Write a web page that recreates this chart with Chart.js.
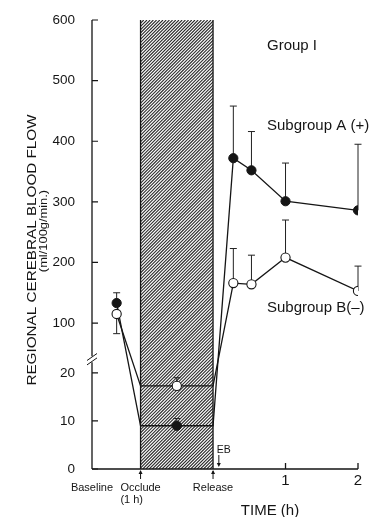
<!DOCTYPE html>
<html>
<head>
<meta charset="utf-8">
<script src="https://cdn.jsdelivr.net/npm/chart.js@4.4.1/dist/chart.umd.min.js"></script>
<style>
  html, body { margin: 0; padding: 0; background: #fff; }
  #wrap { width: 371px; height: 517px; }
</style>
</head>
<body>
<div id="wrap"><canvas id="flowChart"></canvas></div>
<script>
/* ----------- Data ----------- */
// time in hours, occlusion runs from -1 to 0 (release)
const times = [-1.33, -1, -0.5, 0, 0.28, 0.53, 1, 2];
const flowA = [133, 9, 9, 9, 372, 352, 301, 286];        // Subgroup A (+), filled
const errA  = [150, null, 10.5, null, 458, 416, 364, 395];
const flowB = [115, 17.3, 17.3, 17.3, 166, 164, 208, 153]; // Subgroup B(-), open
const errB  = [83, null, 19, null, 223, 212, 270, 194];

const yTicks = [0, 10, 20, 100, 200, 300, 400, 500, 600];
const xTickValues = [-1.67, -1, 0, 1, 2];
const xTickLabels = [['Baseline'], ['Occlude', '(1 h)'], ['Release'], ['1'], ['2']];

const OCCLUDE = -1, RELEASE = 0, EB_TIME = 0.08;
const BREAK_VALUE = 42;
const FONT = "'Liberation Sans', Arial, sans-serif";
const INK = '#151515';

/* ----------- Broken y scale: 0-20 below, 100-600 above ----------- */
const LOW_TOP = 20, LOW_FRAC = 0.214;
const HIGH_BOTTOM = 100, HIGH_FRAC = 0.325;

class BrokenScale extends Chart.LinearScale {
    getPixelForValue(value){
        let dec;
        if(value <= LOW_TOP) dec = value / LOW_TOP * LOW_FRAC;
        else if(value >= HIGH_BOTTOM) dec = HIGH_FRAC + (value - HIGH_BOTTOM) / (this.max - HIGH_BOTTOM) * (1 - HIGH_FRAC);
        else dec = LOW_FRAC + (value - LOW_TOP) / (HIGH_BOTTOM - LOW_TOP) * (HIGH_FRAC - LOW_FRAC);
        return this.getPixelForDecimal(dec);
    }
}
BrokenScale.id = 'broken';
BrokenScale.defaults = Chart.LinearScale.defaults;
Chart.register(BrokenScale);

function stretchText(ctx, text, x, y, sx, rotate){
    ctx.save();
    ctx.translate(x, y);
    if(rotate) ctx.rotate(-Math.PI / 2);
    ctx.scale(sx, 1);
    ctx.fillText(text, 0, 0);
    ctx.restore();
}

/* ----------- Hatch, error bars, axes, annotations ----------- */
const figurePlugin = {
    id: 'figure',
    beforeDatasetsDraw(chart){
        const {ctx, scales: {x, y}} = chart;
        const left = x.getPixelForValue(OCCLUDE), right = x.getPixelForValue(RELEASE);
        const top = y.getPixelForValue(600), bottom = y.getPixelForValue(0);
        const h = bottom - top;
        ctx.save();
        ctx.beginPath();
        ctx.rect(left, top, right - left, h);
        ctx.clip();
        ctx.strokeStyle = '#2b2b2b';
        ctx.lineWidth = 1.1;
        ctx.beginPath();
        for(let k = left - h; k < right + 2; k += 3.2){
            ctx.moveTo(k, bottom);
            ctx.lineTo(k + h, top);
        }
        ctx.stroke();
        ctx.restore();

        ctx.save();
        ctx.strokeStyle = INK;
        ctx.lineWidth = 1.3;
        ctx.beginPath();
        ctx.moveTo(left, top); ctx.lineTo(left, bottom);
        ctx.moveTo(right, top); ctx.lineTo(right, bottom);
        ctx.stroke();

        // error bars
        ctx.lineWidth = 1;
        ctx.strokeStyle = '#222';
        [[flowA, errA], [flowB, errB]].forEach(([vals, errs]) => {
            errs.forEach((e, i) => {
                if(e === null) return;
                const px = x.getPixelForValue(times[i]);
                const p0 = y.getPixelForValue(vals[i]);
                const p1 = y.getPixelForValue(e);
                ctx.beginPath();
                ctx.moveTo(px, p0); ctx.lineTo(px, p1);
                ctx.moveTo(px - 3.5, p1); ctx.lineTo(px + 3.5, p1);
                ctx.stroke();
            });
        });
        ctx.restore();
    },
    afterDraw(chart){
        const {ctx, chartArea, scales: {x, y}} = chart;
        const x0 = chartArea.left;
        const yb = y.getPixelForValue(BREAK_VALUE);
        const y0 = y.getPixelForValue(0);
        ctx.save();
        ctx.strokeStyle = INK;
        ctx.fillStyle = INK;
        ctx.lineWidth = 1.3;

        // y axis with break
        ctx.beginPath();
        ctx.moveTo(x0, y.getPixelForValue(600)); ctx.lineTo(x0, yb - 3);
        ctx.moveTo(x0, yb + 3); ctx.lineTo(x0, y0);
        ctx.stroke();
        ctx.lineWidth = 1;
        ctx.beginPath();
        [-2.2, 2.2].forEach(off => {
            ctx.moveTo(x0 - 5, yb + off + 3.5);
            ctx.lineTo(x0 + 5, yb + off - 3.5);
        });
        ctx.stroke();
        ctx.lineWidth = 1.2;
        ctx.beginPath();
        yTicks.forEach(v => {
            const py = y.getPixelForValue(v);
            ctx.moveTo(x0, py); ctx.lineTo(x0 + 6, py);
        });
        ctx.stroke();

        // x axis
        ctx.lineWidth = 1.3;
        ctx.beginPath();
        ctx.moveTo(x0, y0); ctx.lineTo(x.getPixelForValue(2), y0);
        [1, 2].forEach(v => {
            const px = x.getPixelForValue(v);
            ctx.moveTo(px, y0); ctx.lineTo(px, y0 - 6);
        });
        ctx.stroke();

        // arrows under occlude / release
        ctx.lineWidth = 1;
        [OCCLUDE, RELEASE].forEach(v => {
            const px = x.getPixelForValue(v);
            ctx.beginPath();
            ctx.moveTo(px, y0 + 10); ctx.lineTo(px, y0 + 2);
            ctx.stroke();
            ctx.beginPath();
            ctx.moveTo(px, y0 + 1); ctx.lineTo(px - 2, y0 + 5); ctx.lineTo(px + 2, y0 + 5);
            ctx.closePath(); ctx.fill();
        });

        // EB marker
        const ebx = x.getPixelForValue(EB_TIME);
        ctx.beginPath();
        ctx.moveTo(ebx, y0 - 14); ctx.lineTo(ebx, y0 - 4);
        ctx.stroke();
        ctx.beginPath();
        ctx.moveTo(ebx, y0 - 2); ctx.lineTo(ebx - 2, y0 - 6); ctx.lineTo(ebx + 2, y0 - 6);
        ctx.closePath(); ctx.fill();
        ctx.font = '10.5px ' + FONT;
        ctx.textAlign = 'left';
        ctx.textBaseline = 'alphabetic';
        ctx.fillText('EB', ebx - 2, y0 - 16);

        // x tick labels
        xTickValues.forEach((v, i) => {
            const px = x.getPixelForValue(v);
            const lines = xTickLabels[i];
            if(v === 1 || v === 2){
                ctx.font = '15px ' + FONT;
                ctx.textAlign = 'center';
                ctx.fillText(lines[0], px, y0 + 16);
            } else {
                ctx.font = '11px ' + FONT;
                ctx.textAlign = 'center';
                ctx.fillText(lines[0], px, y0 + 22);
                if(lines[1]){
                    const w = ctx.measureText(lines[0]).width;
                    ctx.textAlign = 'left';
                    ctx.fillText(lines[1], px - w / 2, y0 + 34);
                }
            }
        });

        // axis titles
        ctx.textAlign = 'center';
        ctx.font = '15px ' + FONT;
        ctx.fillText('TIME (h)', 270, 515);
        ctx.font = '12.5px ' + FONT;
        stretchText(ctx, 'REGIONAL CEREBRAL BLOOD FLOW', 36, 250, 1.22, true);
        ctx.font = '11.5px ' + FONT;
        stretchText(ctx, '(ml/100g/min.)', 47, 231, 1.12, true);

        // annotations
        ctx.textAlign = 'left';
        ctx.font = '15px ' + FONT;
        ctx.fillText('Group I', 267, 50);
        ctx.fillText('Subgroup A (+)', 267, 130);
        ctx.fillText('Subgroup B(\u2013)', 267, 312);
        ctx.restore();
    }
};

/* ----------- Chart ----------- */
const hidden = ctx => (times[ctx.dataIndex] === OCCLUDE || times[ctx.dataIndex] === RELEASE) ? 0 : 4.6;

new Chart(document.getElementById('flowChart'), {
    type: 'line',
    data: {
        datasets: [
            {
                label: 'Subgroup A (+)',
                data: times.map((t, i) => ({x: t, y: flowA[i]})),
                borderColor: INK,
                borderWidth: 1.3,
                pointRadius: hidden,
                pointBackgroundColor: INK,
                pointBorderColor: INK,
                pointBorderWidth: 1,
                tension: 0,
                order: 1
            },
            {
                label: 'Subgroup B(-)',
                data: times.map((t, i) => ({x: t, y: flowB[i]})),
                borderColor: INK,
                borderWidth: 1.3,
                pointRadius: hidden,
                pointBackgroundColor: '#fff',
                pointBorderColor: INK,
                pointBorderWidth: 1.1,
                tension: 0,
                order: 0
            }
        ]
    },
    options: {
        responsive: true,
        maintainAspectRatio: false,
        animation: false,
        devicePixelRatio: 1,
        layout: { padding: { top: 20, right: 13, left: 0, bottom: 0 } },
        plugins: { legend: { display: false }, tooltip: { enabled: false } },
        scales: {
            x: {
                type: 'linear',
                min: -1.67,
                max: 2,
                grid: { display: false },
                border: { display: false },
                ticks: { display: false },
                afterFit: s => { s.height = 48; }
            },
            y: {
                type: 'broken',
                min: 0,
                max: 600,
                grid: { display: false },
                border: { display: false },
                afterBuildTicks: s => { s.ticks = yTicks.map(v => ({value: v})); },
                afterFit: s => { s.width = 92; },
                ticks: {
                    autoSkip: false,
                    padding: 9,
                    color: INK,
                    font: { family: FONT, size: 13.5 },
                    callback: v => String(v)
                }
            }
        }
    },
    plugins: [figurePlugin]
});
</script>
</body>
</html>
